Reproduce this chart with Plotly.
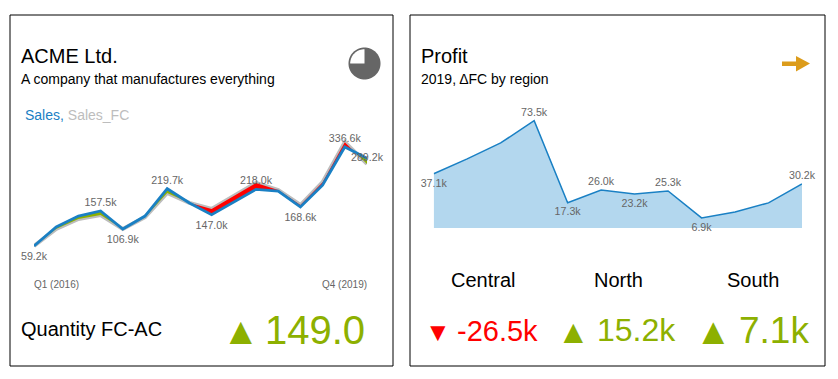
import math
import plotly.graph_objects as go

W, H = 838, 379
FONT = "Liberation Sans, Arial, sans-serif"

quarters = list(range(16))
sales = [59.2, 112.4, 143, 157.5, 106.9, 143, 219.7, 179.6, 147, 182, 218, 213, 168.6, 230, 336.6, 305]
sales_fc = [59.2, 107, 135, 146, 106.9, 140, 208, 180, 163, 199, 236, 216, 174, 238, 350, 289.2]
sales_labels = ["59.2k", "", "", "157.5k", "106.9k", "", "219.7k", "", "147.0k", "", "218.0k", "", "168.6k", "", "336.6k", "289.2k"]
sales_label_pos = ["bottom center", "top center", "top center", "top center", "bottom center", "top center",
                   "top center", "top center", "bottom center", "top center", "top center", "top center",
                   "bottom center", "top center", "top center", "middle center"]

months = list(range(12))
profit = [37.1, 47.3, 58.2, 73.5, 17.3, 26.0, 23.2, 25.3, 6.9, 11, 17.2, 30.2]
profit_labels = ["37.1k", "", "", "73.5k", "17.3k", "26.0k", "23.2k", "25.3k", "6.9k", "", "", "30.2k"]
profit_label_pos = ["bottom center", "top center", "top center", "top center", "bottom center", "top center",
                    "bottom center", "top center", "bottom center", "top center", "top center", "top center"]

regions = ["Central", "North", "South"]
region_deltas = ["-26.5k", "15.2k", "7.1k"]
region_marks = ["▼", "▲", "▲"]
region_colors = ["#FF0000", "#8DB000", "#8DB000"]

GREEN = "#8DB000"; RED = "#FF0000"; BLUE = "#1A80C4"; GRAY = "#666666"


def px(x):
    return x / W


def py(y):
    return 1 - y / H


def delta_polys(x, a, f):
    """Regions between actual (a) and forecast (f), split where they cross."""
    red_x, red_y, green_x, green_y = [], [], [], []
    for i in range(len(x) - 1):
        d0, d1 = f[i] - a[i], f[i + 1] - a[i + 1]
        pieces = []
        if d0 * d1 < 0:
            t = d0 / (d0 - d1)
            xc = x[i] + t * (x[i + 1] - x[i])
            yc = a[i] + t * (a[i + 1] - a[i])
            pieces.append(([x[i], xc, x[i]], [a[i], yc, f[i]], d0))
            pieces.append(([xc, x[i + 1], x[i + 1]], [yc, a[i + 1], f[i + 1]], d1))
        else:
            pieces.append(([x[i], x[i + 1], x[i + 1], x[i]], [a[i], a[i + 1], f[i + 1], f[i]], d0 + d1))
        for xs, ys, d in pieces:
            if d > 0:
                red_x += xs + [xs[0], None]; red_y += ys + [ys[0], None]
            elif d < 0:
                green_x += xs + [xs[0], None]; green_y += ys + [ys[0], None]
    return red_x, red_y, green_x, green_y


def label_trace(x, y, labels, positions, xa, ya, bottom_size):
    # invisible markers push bottom labels further from the line
    sizes = [bottom_size if p.startswith("bottom") else 2 for p in positions]
    return go.Scatter(x=x, y=y, mode="markers+text", text=labels, textposition=positions,
                      marker=dict(size=sizes, opacity=0), cliponaxis=False,
                      textfont=dict(family=FONT, size=10.67, color=GRAY), xaxis=xa, yaxis=ya, hoverinfo="skip")


fig = go.Figure()
rx, ry, gx, gy = delta_polys(quarters, sales, sales_fc)

fig.add_trace(go.Scatter(x=quarters, y=sales_fc, mode="lines", line=dict(color="#BDBDBD", width=4),
                         xaxis="x", yaxis="y", hoverinfo="skip", cliponaxis=False))
fig.add_trace(go.Scatter(x=rx, y=ry, mode="lines", fill="toself", fillcolor=RED, line=dict(width=0),
                         xaxis="x", yaxis="y", hoverinfo="skip"))
fig.add_trace(go.Scatter(x=gx, y=gy, mode="lines", fill="toself", fillcolor=GREEN, line=dict(width=0),
                         xaxis="x", yaxis="y", hoverinfo="skip"))
fig.add_trace(go.Scatter(x=quarters, y=sales, mode="lines", line=dict(color=BLUE, width=2.8),
                         xaxis="x", yaxis="y", cliponaxis=False))
fig.add_trace(label_trace(quarters, sales, sales_labels, sales_label_pos, "x", "y", 8))

fig.add_trace(go.Scatter(x=months, y=profit, mode="lines", fill="tozeroy", fillcolor="#B3D7EE",
                         line=dict(color=BLUE, width=1.5), xaxis="x2", yaxis="y2", cliponaxis=False))
fig.add_trace(label_trace(months, profit, profit_labels, profit_label_pos, "x2", "y2", 6))

shapes = []
for x0, x1 in [(10, 393), (410, 825)]:
    shapes.append(dict(type="rect", xref="paper", yref="paper", x0=px(x0), x1=px(x1), y0=py(366), y1=py(15),
                       line=dict(color="black", width=1), fillcolor="rgba(0,0,0,0)", layer="below"))


def poly(points, color):
    d = "M " + " L ".join(f"{px(a):.5f},{py(b):.5f}" for a, b in points) + " Z"
    return dict(type="path", xref="paper", yref="paper", path=d, fillcolor=color, line=dict(width=0))


cx, cy = 364.5, 63.5
circle = [(cx + 16 * math.cos(i * math.pi / 36), cy + 16 * math.sin(i * math.pi / 36)) for i in range(72)]
shapes.append(poly(circle, GRAY))
wedge = [(cx, cy)] + [(cx + 14.3 * math.cos(math.pi + i * math.pi / 36), cy + 14.3 * math.sin(math.pi + i * math.pi / 36))
                      for i in range(19)]
shapes.append(poly(wedge, "white"))
shapes.append(poly([(782, 61.5), (796, 61.5), (796, 56), (810, 63.5), (796, 71.5), (796, 66), (782, 66)], "#DC9C1B"))


def text(x, y, s, size, color="black", anchor="left"):
    return dict(xref="paper", yref="paper", x=px(x), y=py(y), text=s, showarrow=False, xanchor=anchor,
                yanchor="middle", align=anchor, font=dict(family=FONT, size=size, color=color),
                borderpad=0, borderwidth=0)


ann = [
    text(21, 56, "ACME Ltd.", 20),
    text(21, 79, "A company that manufactures everything", 14),
    text(25, 115, f'<span style="color:{BLUE}">Sales,</span> <span style="color:#BDBDBD">Sales_FC</span>', 14),
    text(34, 284, "Q1 (2016)", 10, GRAY),
    text(367, 284, "Q4 (2019)", 10, GRAY, "right"),
    text(21, 329, "Quantity FC-AC", 20),
    text(365, 330, "149.0", 40, GREEN, "right"),
    text(240.5, 331, "▲", 38, GREEN, "center"),
    text(421, 56, "Profit", 20),
    text(421, 79, "2019, ΔFC by region", 14),
]
for name, cxr in zip(regions, [483, 618, 753]):
    ann.append(text(cxr, 280, name, 20, anchor="center"))
val_right = [538, 676, 809]
val_size = [29, 32, 37]
val_y = [331, 330, 330]
mark_x = [438.5, 573.5, 713.5]
mark_size = [26, 33, 37]
mark_y = [332, 331, 331]
for mark, val, col, vs, vx, vy, mx, ms, my in zip(region_marks, region_deltas, region_colors,
                                                  val_size, val_right, val_y, mark_x, mark_size, mark_y):
    ann.append(text(vx, vy, val, vs, col, "right"))
    ann.append(text(mx, my, mark, ms, col, "center"))

hidden = dict(visible=False, showgrid=False, zeroline=False, fixedrange=True)
fig.update_layout(
    width=W, height=H, margin=dict(l=0, r=0, t=0, b=0), paper_bgcolor="white", plot_bgcolor="white",
    showlegend=False, shapes=shapes, annotations=ann,
    xaxis=dict(hidden, domain=[px(34), px(367)], range=[0, 15]),
    yaxis=dict(hidden, domain=[py(260), py(130)], range=[59.2 - 14 / 0.357, 59.2 + 116 / 0.357]),
    xaxis2=dict(hidden, domain=[px(433.7), px(802)], range=[0, 11]),
    yaxis2=dict(hidden, domain=[py(228), py(100)], range=[0, 128 / 1.461]),
)
fig.write_html("out.html", config=dict(displayModeBar=False),
               post_script="document.body.style.margin='0';document.body.style.overflow='hidden';")
